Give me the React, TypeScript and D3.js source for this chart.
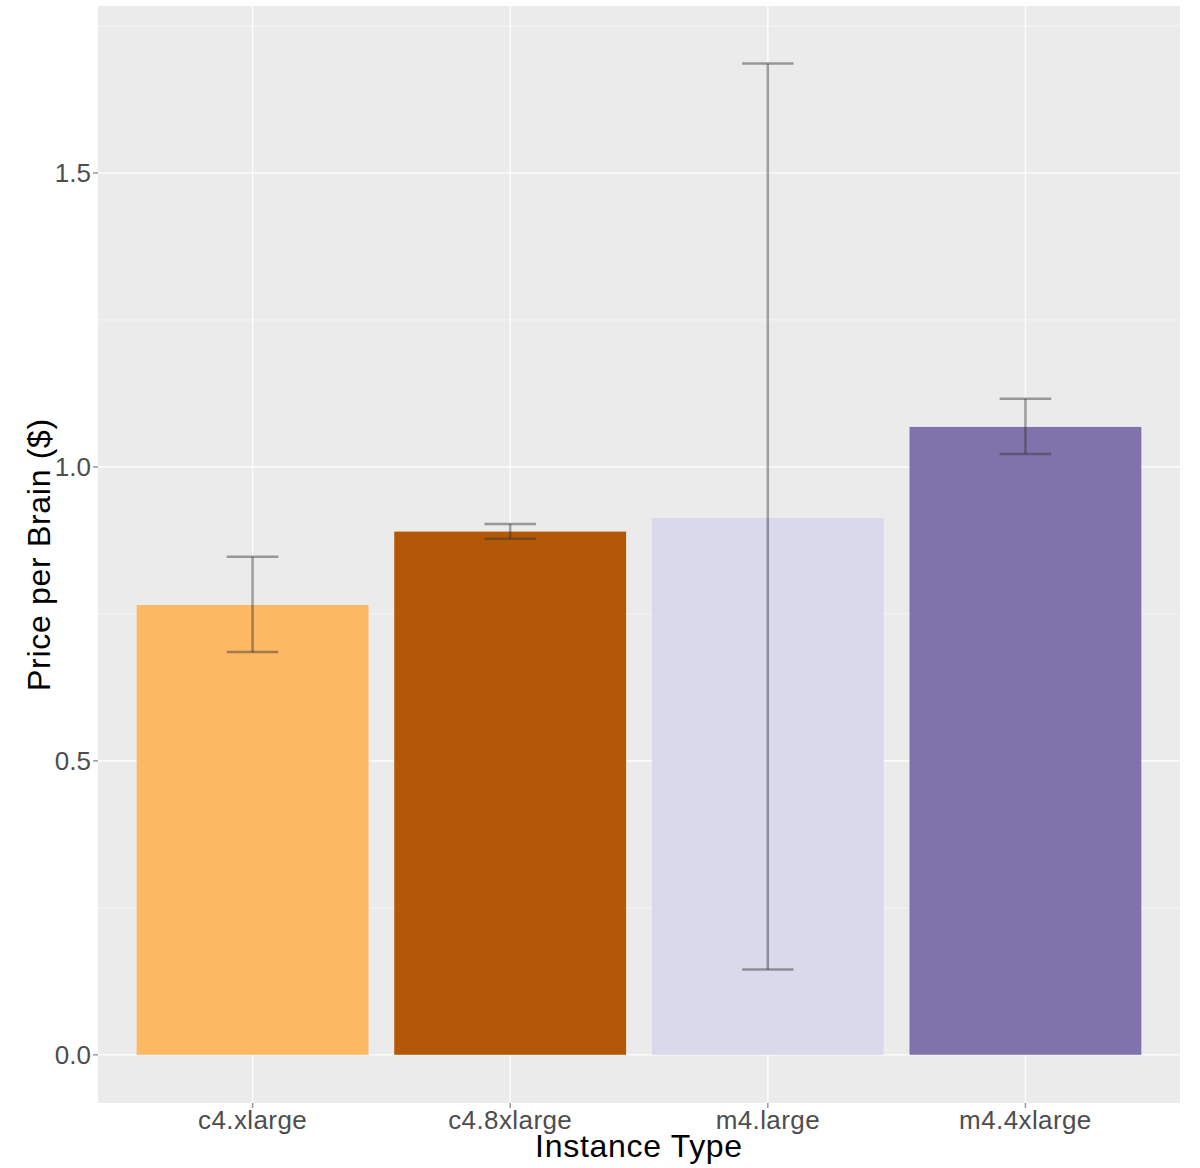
import React from 'react';
import * as d3 from 'd3';

// Values
const instanceTypes = ['c4.xlarge', 'c4.8xlarge', 'm4.large', 'm4.4xlarge'];
const meanPrice = [0.765, 0.89, 0.913, 1.068];
const lowerPrice = [0.685, 0.878, 0.145, 1.022];
const upperPrice = [0.847, 0.903, 1.686, 1.116];
const barColors = ['#FDB863', '#B35806', '#D8DAEB', '#8073AC'];
const yMajorTicks = [0, 0.5, 1.0, 1.5];
const yMinorTicks = [0.25, 0.75, 1.25, 1.75];
const yDomain = [-0.082, 1.784];

const WIDTH = 1200;
const HEIGHT = 1168;
const margin = { top: 6, right: 20, bottom: 65, left: 98 };
const FONT = '"Liberation Sans", Arial, sans-serif';

export default function App() {
    const innerWidth = WIDTH - margin.left - margin.right;
    const innerHeight = HEIGHT - margin.top - margin.bottom;

    // ggplot-like discrete axis: 0.6 units of padding on each side, bars 0.9 wide
    const x = d3.scaleBand<string>()
        .domain(instanceTypes)
        .range([0, innerWidth])
        .paddingInner(0.1)
        .paddingOuter(0.15);

    const y = d3.scaleLinear()
        .domain(yDomain)
        .range([innerHeight, 0]);

    const capHalf = x.step() * 0.1;
    const mid = (c: string) => x(c)! + x.bandwidth() / 2;

    return (
        <div style={{ position: 'absolute', left: 0, top: 0 }}>
            <svg width={WIDTH} height={HEIGHT} style={{ display: 'block', fontFamily: FONT }}>
                <rect width={WIDTH} height={HEIGHT} fill="#ffffff" />
                <g transform={`translate(${margin.left},${margin.top})`}>
                    <rect width={innerWidth} height={innerHeight} fill="#EBEBEB" />

                    {/* minor grid */}
                    {yMinorTicks.map(t => (
                        <line key={`mn${t}`} x1={0} x2={innerWidth} y1={y(t)} y2={y(t)}
                            stroke="#ffffff" strokeWidth={1} opacity={0.5} />
                    ))}
                    {/* major grid */}
                    {yMajorTicks.map(t => (
                        <line key={`mj${t}`} x1={0} x2={innerWidth} y1={y(t)} y2={y(t)}
                            stroke="#ffffff" strokeWidth={1.6} opacity={0.8} />
                    ))}
                    {instanceTypes.map(c => (
                        <line key={`vg${c}`} x1={mid(c)} x2={mid(c)}
                            y1={0} y2={innerHeight} stroke="#ffffff" strokeWidth={1.6} opacity={0.8} />
                    ))}

                    {/* bars */}
                    {instanceTypes.map((c, i) => (
                        <rect key={`b${c}`} x={x(c)} width={x.bandwidth()}
                            y={y(meanPrice[i])} height={y(0) - y(meanPrice[i])}
                            fill={barColors[i]} />
                    ))}

                    {/* error bars */}
                    {instanceTypes.map((c, i) => {
                        const cx = mid(c);
                        return (
                            <g key={`e${c}`} stroke="#333333" strokeOpacity={0.45} strokeWidth={2.5}>
                                <line x1={cx} x2={cx} y1={y(upperPrice[i])} y2={y(lowerPrice[i])} />
                                <line x1={cx - capHalf} x2={cx + capHalf} y1={y(upperPrice[i])} y2={y(upperPrice[i])} />
                                <line x1={cx - capHalf} x2={cx + capHalf} y1={y(lowerPrice[i])} y2={y(lowerPrice[i])} />
                            </g>
                        );
                    })}

                    {/* y axis */}
                    {yMajorTicks.map(t => (
                        <g key={`yt${t}`} transform={`translate(0,${y(t)})`}>
                            <line x1={-5} x2={0} stroke="#333333" strokeWidth={1.5} opacity={0.5} />
                            <text x={-7} dy="0.36em" textAnchor="end" fontSize={26} fill="#4D4D4D">
                                {d3.format('.1f')(t)}
                            </text>
                        </g>
                    ))}

                    {/* x axis */}
                    {instanceTypes.map(c => (
                        <g key={`xt${c}`} transform={`translate(${mid(c)},${innerHeight})`}>
                            <line y1={0} y2={5} stroke="#333333" strokeWidth={1.5} opacity={0.5} />
                            <text y={26} textAnchor="middle" fontSize={26} letterSpacing={0.4} fill="#4D4D4D">{c}</text>
                        </g>
                    ))}

                    <text x={innerWidth / 2} y={innerHeight + 54} textAnchor="middle" fontSize={32}
                        letterSpacing={0.7} fill="#000000">
                        Instance Type
                    </text>
                    <text transform={`translate(${-48},${innerHeight / 2}) rotate(-90)`} textAnchor="middle"
                        fontSize={32} letterSpacing={0.7} fill="#000000">
                        Price per Brain ($)
                    </text>
                </g>
            </svg>
        </div>
    );
}
